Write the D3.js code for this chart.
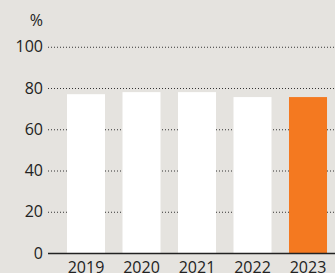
<!DOCTYPE html>
<html>
<head>
<meta charset="utf-8">
<script src="https://cdn.jsdelivr.net/npm/d3@7"></script>
<style>
  body { margin: 0; background: #e5e3df; }
  svg { display: block; }
  text { font-family: "Open Sans", sans-serif; fill: #222; }
</style>
</head>
<body>
<div id="chart"></div>
<script>
// data
var years = ['2019', '2020', '2021', '2022', '2023'];
var values = [77, 78, 78, 75.6, 75.6];
var yTicks = [0, 20, 40, 60, 80, 100];

var width = 335, height = 273;
var margin = {top: 47, bottom: 20, left: 48, right: 0};

var svg = d3.select('#chart')
  .append('svg')
  .attr('width', width)
  .attr('height', height)
  .style('background', '#e5e3df');

// scales
var yScale = d3.scaleLinear()
  .domain([0, 100])
  .range([253, 46.75]);

var xScale = d3.scaleBand()
  .domain(years)
  .range([49.5, 344.5])
  .paddingInner(0.315)
  .paddingOuter(0.315);

// grid lines
svg.append('g')
  .selectAll('line')
  .data(yTicks.filter(function(d) { return d > 0; }))
  .enter()
  .append('line')
  .attr('x1', margin.left)
  .attr('x2', width)
  .attr('y1', function(d) { return yScale(d) + 0.5; })
  .attr('y2', function(d) { return yScale(d) + 0.5; })
  .attr('stroke', '#333')
  .attr('stroke-width', 1)
  .attr('stroke-dasharray', '1,2');

// bars
svg.selectAll('rect.bar')
  .data(values)
  .enter()
  .append('rect')
  .attr('class', 'bar')
  .attr('x', function(d, i) { return xScale(years[i]); })
  .attr('y', function(d) { return yScale(d); })
  .attr('width', xScale.bandwidth())
  .attr('height', function(d) { return yScale(0) - yScale(d); })
  .attr('fill', function(d, i) { return i === years.length - 1 ? '#f47920' : '#ffffff'; });

// y tick labels
svg.append('g')
  .selectAll('text')
  .data(yTicks)
  .enter()
  .append('text')
  .attr('x', 43)
  .attr('y', function(d) { return yScale(d); })
  .attr('dy', '0.35em')
  .attr('text-anchor', 'end')
  .style('font-size', '16px')
  .text(function(d) { return d; });

svg.append('text')
  .attr('x', 43)
  .attr('y', 26)
  .attr('text-anchor', 'end')
  .style('font-size', '16px')
  .text('%');

// x axis
var xAxis = svg.append('g')
  .attr('transform', 'translate(0,' + yScale(0) + ')');

xAxis.append('line')
  .attr('x1', margin.left)
  .attr('x2', width)
  .attr('y1', 0.5)
  .attr('y2', 0.5)
  .attr('stroke', '#222')
  .attr('stroke-width', 1.5);

xAxis.selectAll('text')
  .data(years)
  .enter()
  .append('text')
  .attr('x', function(d) { return xScale(d) + xScale.bandwidth() / 2; })
  .attr('y', 19.5)
  .attr('text-anchor', 'middle')
  .style('font-size', '16px')
  .text(function(d) { return d; });
</script>
</body>
</html>
